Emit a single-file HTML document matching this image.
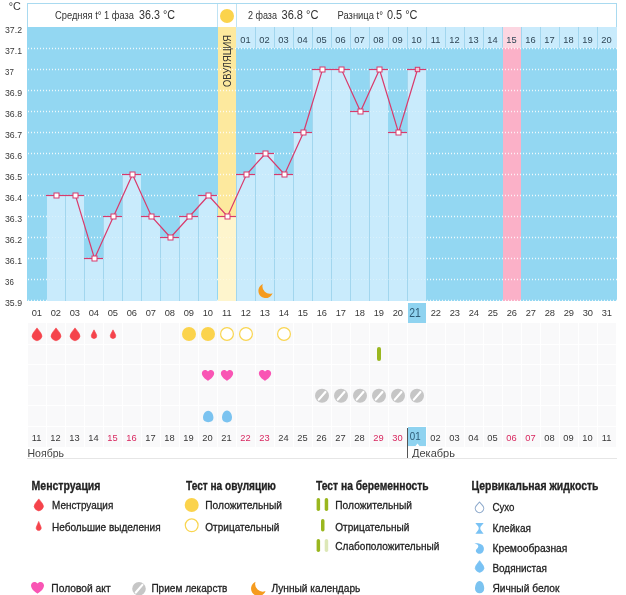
<!DOCTYPE html>
<html lang="ru"><head><meta charset="utf-8"><title>График базальной температуры</title>
<style>html,body{margin:0;padding:0;background:#fff}svg{display:block}text{font-family:"Liberation Sans", sans-serif}</style></head><body>
<svg width="626" height="595" viewBox="0 0 626 595">
<rect width="626" height="595" fill="#fff"/>
<rect x="27" y="27" width="590" height="274" fill="#93d7f2"/>
<rect x="27" y="3" width="590" height="24" fill="#a9daf0"/><rect x="28" y="4" width="588" height="23" fill="#fff"/>
<line x1="217.5" y1="4" x2="217.5" y2="27" stroke="#bfe3f4"/>
<line x1="236.5" y1="4" x2="236.5" y2="27" stroke="#bfe3f4"/>
<rect x="218" y="27" width="18" height="274" fill="#fde99e"/>
<rect x="503" y="27" width="18" height="274" fill="#fbb1c8"/>
<rect x="236" y="27" width="381" height="21" fill="#c9ebfc"/>
<rect x="503" y="27" width="18" height="21" fill="#fcd6e1"/>
<rect x="255" y="27" width="1" height="21" fill="#a2d6ee"/>
<rect x="274" y="27" width="1" height="21" fill="#a2d6ee"/>
<rect x="293" y="27" width="1" height="21" fill="#a2d6ee"/>
<rect x="312" y="27" width="1" height="21" fill="#a2d6ee"/>
<rect x="331" y="27" width="1" height="21" fill="#a2d6ee"/>
<rect x="350" y="27" width="1" height="21" fill="#a2d6ee"/>
<rect x="369" y="27" width="1" height="21" fill="#a2d6ee"/>
<rect x="388" y="27" width="1" height="21" fill="#a2d6ee"/>
<rect x="407" y="27" width="1" height="21" fill="#a2d6ee"/>
<rect x="426" y="27" width="1" height="21" fill="#a2d6ee"/>
<rect x="445" y="27" width="1" height="21" fill="#a2d6ee"/>
<rect x="464" y="27" width="1" height="21" fill="#a2d6ee"/>
<rect x="483" y="27" width="1" height="21" fill="#a2d6ee"/>
<rect x="502" y="27" width="1" height="21" fill="#a2d6ee"/>
<rect x="521" y="27" width="1" height="21" fill="#a2d6ee"/>
<rect x="540" y="27" width="1" height="21" fill="#a2d6ee"/>
<rect x="559" y="27" width="1" height="21" fill="#a2d6ee"/>
<rect x="578" y="27" width="1" height="21" fill="#a2d6ee"/>
<rect x="597" y="27" width="1" height="21" fill="#a2d6ee"/>
<line x1="28" y1="48.5" x2="617" y2="48.5" stroke="#fff" stroke-width="1.3" stroke-dasharray="1 2" opacity="0.8"/>
<line x1="28" y1="69.5" x2="617" y2="69.5" stroke="#fff" stroke-width="1.3" stroke-dasharray="1 2" opacity="0.8"/>
<line x1="28" y1="90.5" x2="617" y2="90.5" stroke="#fff" stroke-width="1.3" stroke-dasharray="1 2" opacity="0.8"/>
<line x1="28" y1="111.5" x2="617" y2="111.5" stroke="#fff" stroke-width="1.3" stroke-dasharray="1 2" opacity="0.8"/>
<line x1="28" y1="132.5" x2="617" y2="132.5" stroke="#fff" stroke-width="1.3" stroke-dasharray="1 2" opacity="0.8"/>
<line x1="28" y1="153.5" x2="617" y2="153.5" stroke="#fff" stroke-width="1.3" stroke-dasharray="1 2" opacity="0.8"/>
<line x1="28" y1="174.5" x2="617" y2="174.5" stroke="#fff" stroke-width="1.3" stroke-dasharray="1 2" opacity="0.8"/>
<line x1="28" y1="195.5" x2="617" y2="195.5" stroke="#fff" stroke-width="1.3" stroke-dasharray="1 2" opacity="0.8"/>
<line x1="28" y1="216.5" x2="617" y2="216.5" stroke="#fff" stroke-width="1.3" stroke-dasharray="1 2" opacity="0.8"/>
<line x1="28" y1="237.5" x2="617" y2="237.5" stroke="#fff" stroke-width="1.3" stroke-dasharray="1 2" opacity="0.8"/>
<line x1="28" y1="258.5" x2="617" y2="258.5" stroke="#fff" stroke-width="1.3" stroke-dasharray="1 2" opacity="0.8"/>
<line x1="28" y1="279.5" x2="617" y2="279.5" stroke="#fff" stroke-width="1.3" stroke-dasharray="1 2" opacity="0.8"/>
<line x1="28" y1="300.5" x2="617" y2="300.5" stroke="#fff" stroke-width="1.3" stroke-dasharray="1 2" opacity="0.8"/>
<rect x="47" y="195.0" width="18" height="106.0" fill="#c9ebfc"/>
<rect x="66" y="195.0" width="18" height="106.0" fill="#c9ebfc"/>
<rect x="65" y="195.0" width="1" height="106.0" fill="#a2d6ee"/>
<rect x="85" y="258.0" width="18" height="43.0" fill="#c9ebfc"/>
<rect x="84" y="258.0" width="1" height="43.0" fill="#a2d6ee"/>
<rect x="104" y="216.0" width="18" height="85.0" fill="#c9ebfc"/>
<rect x="103" y="216.0" width="1" height="85.0" fill="#a2d6ee"/>
<rect x="123" y="174.0" width="18" height="127.0" fill="#c9ebfc"/>
<rect x="122" y="174.0" width="1" height="127.0" fill="#a2d6ee"/>
<rect x="142" y="216.0" width="18" height="85.0" fill="#c9ebfc"/>
<rect x="141" y="216.0" width="1" height="85.0" fill="#a2d6ee"/>
<rect x="161" y="237.0" width="18" height="64.0" fill="#c9ebfc"/>
<rect x="160" y="237.0" width="1" height="64.0" fill="#a2d6ee"/>
<rect x="180" y="216.0" width="18" height="85.0" fill="#c9ebfc"/>
<rect x="179" y="216.0" width="1" height="85.0" fill="#a2d6ee"/>
<rect x="199" y="195.0" width="18" height="106.0" fill="#c9ebfc"/>
<rect x="198" y="195.0" width="1" height="106.0" fill="#a2d6ee"/>
<rect x="218" y="216.0" width="18" height="85.0" fill="#fef5cd"/>
<rect x="237" y="174.0" width="18" height="127.0" fill="#c9ebfc"/>
<rect x="236" y="174.0" width="1" height="127.0" fill="#a2d6ee"/>
<rect x="256" y="153.0" width="18" height="148.0" fill="#c9ebfc"/>
<rect x="255" y="153.0" width="1" height="148.0" fill="#a2d6ee"/>
<rect x="275" y="174.0" width="18" height="127.0" fill="#c9ebfc"/>
<rect x="274" y="174.0" width="1" height="127.0" fill="#a2d6ee"/>
<rect x="294" y="132.0" width="18" height="169.0" fill="#c9ebfc"/>
<rect x="293" y="132.0" width="1" height="169.0" fill="#a2d6ee"/>
<rect x="313" y="69.0" width="18" height="232.0" fill="#c9ebfc"/>
<rect x="312" y="69.0" width="1" height="232.0" fill="#a2d6ee"/>
<rect x="332" y="69.0" width="18" height="232.0" fill="#c9ebfc"/>
<rect x="331" y="69.0" width="1" height="232.0" fill="#a2d6ee"/>
<rect x="351" y="111.0" width="18" height="190.0" fill="#c9ebfc"/>
<rect x="350" y="111.0" width="1" height="190.0" fill="#a2d6ee"/>
<rect x="370" y="69.0" width="18" height="232.0" fill="#c9ebfc"/>
<rect x="369" y="69.0" width="1" height="232.0" fill="#a2d6ee"/>
<rect x="389" y="132.0" width="18" height="169.0" fill="#c9ebfc"/>
<rect x="388" y="132.0" width="1" height="169.0" fill="#a2d6ee"/>
<rect x="408" y="69.0" width="18" height="232.0" fill="#c9ebfc"/>
<rect x="407" y="69.0" width="1" height="232.0" fill="#a2d6ee"/>
<line x1="28" y1="48.5" x2="617" y2="48.5" stroke="#fff" stroke-width="1.2" stroke-dasharray="1 2" opacity="0.3"/>
<line x1="28" y1="69.5" x2="617" y2="69.5" stroke="#fff" stroke-width="1.2" stroke-dasharray="1 2" opacity="0.3"/>
<line x1="28" y1="90.5" x2="617" y2="90.5" stroke="#fff" stroke-width="1.2" stroke-dasharray="1 2" opacity="0.3"/>
<line x1="28" y1="111.5" x2="617" y2="111.5" stroke="#fff" stroke-width="1.2" stroke-dasharray="1 2" opacity="0.3"/>
<line x1="28" y1="132.5" x2="617" y2="132.5" stroke="#fff" stroke-width="1.2" stroke-dasharray="1 2" opacity="0.3"/>
<line x1="28" y1="153.5" x2="617" y2="153.5" stroke="#fff" stroke-width="1.2" stroke-dasharray="1 2" opacity="0.3"/>
<line x1="28" y1="174.5" x2="617" y2="174.5" stroke="#fff" stroke-width="1.2" stroke-dasharray="1 2" opacity="0.3"/>
<line x1="28" y1="195.5" x2="617" y2="195.5" stroke="#fff" stroke-width="1.2" stroke-dasharray="1 2" opacity="0.3"/>
<line x1="28" y1="216.5" x2="617" y2="216.5" stroke="#fff" stroke-width="1.2" stroke-dasharray="1 2" opacity="0.3"/>
<line x1="28" y1="237.5" x2="617" y2="237.5" stroke="#fff" stroke-width="1.2" stroke-dasharray="1 2" opacity="0.3"/>
<line x1="28" y1="258.5" x2="617" y2="258.5" stroke="#fff" stroke-width="1.2" stroke-dasharray="1 2" opacity="0.3"/>
<line x1="28" y1="279.5" x2="617" y2="279.5" stroke="#fff" stroke-width="1.2" stroke-dasharray="1 2" opacity="0.3"/>
<line x1="46" y1="195.5" x2="65" y2="195.5" stroke="#d93a6c" stroke-width="1.2"/>
<line x1="65" y1="195.5" x2="84" y2="195.5" stroke="#d93a6c" stroke-width="1.2"/>
<line x1="84" y1="258.5" x2="103" y2="258.5" stroke="#d93a6c" stroke-width="1.2"/>
<line x1="103" y1="216.5" x2="122" y2="216.5" stroke="#d93a6c" stroke-width="1.2"/>
<line x1="122" y1="174.5" x2="141" y2="174.5" stroke="#d93a6c" stroke-width="1.2"/>
<line x1="141" y1="216.5" x2="160" y2="216.5" stroke="#d93a6c" stroke-width="1.2"/>
<line x1="160" y1="237.5" x2="179" y2="237.5" stroke="#d93a6c" stroke-width="1.2"/>
<line x1="179" y1="216.5" x2="198" y2="216.5" stroke="#d93a6c" stroke-width="1.2"/>
<line x1="198" y1="195.5" x2="217" y2="195.5" stroke="#d93a6c" stroke-width="1.2"/>
<line x1="217" y1="216.5" x2="236" y2="216.5" stroke="#d93a6c" stroke-width="1.2"/>
<line x1="236" y1="174.5" x2="255" y2="174.5" stroke="#d93a6c" stroke-width="1.2"/>
<line x1="255" y1="153.5" x2="274" y2="153.5" stroke="#d93a6c" stroke-width="1.2"/>
<line x1="274" y1="174.5" x2="293" y2="174.5" stroke="#d93a6c" stroke-width="1.2"/>
<line x1="293" y1="132.5" x2="312" y2="132.5" stroke="#d93a6c" stroke-width="1.2"/>
<line x1="312" y1="69.5" x2="331" y2="69.5" stroke="#d93a6c" stroke-width="1.2"/>
<line x1="331" y1="69.5" x2="350" y2="69.5" stroke="#d93a6c" stroke-width="1.2"/>
<line x1="350" y1="111.5" x2="369" y2="111.5" stroke="#d93a6c" stroke-width="1.2"/>
<line x1="369" y1="69.5" x2="388" y2="69.5" stroke="#d93a6c" stroke-width="1.2"/>
<line x1="388" y1="132.5" x2="407" y2="132.5" stroke="#d93a6c" stroke-width="1.2"/>
<line x1="407" y1="69.5" x2="426" y2="69.5" stroke="#d93a6c" stroke-width="1.2"/>
<polyline points="56.5,195.5 75.5,195.5 94.5,258.5 113.5,216.5 132.5,174.5 151.5,216.5 170.5,237.5 189.5,216.5 208.5,195.5 227.5,216.5 246.5,174.5 265.5,153.5 284.5,174.5 303.5,132.5 322.5,69.5 341.5,69.5 360.5,111.5 379.5,69.5 398.5,132.5 417.5,69.5" fill="none" stroke="#d93a6c" stroke-width="1.2"/>
<rect x="54.0" y="193.0" width="5.0" height="5.0" fill="#fff" stroke="#d93a6c" stroke-width="1"/>
<rect x="73.0" y="193.0" width="5.0" height="5.0" fill="#fff" stroke="#d93a6c" stroke-width="1"/>
<rect x="92.0" y="256.0" width="5.0" height="5.0" fill="#fff" stroke="#d93a6c" stroke-width="1"/>
<rect x="111.0" y="214.0" width="5.0" height="5.0" fill="#fff" stroke="#d93a6c" stroke-width="1"/>
<rect x="130.0" y="172.0" width="5.0" height="5.0" fill="#fff" stroke="#d93a6c" stroke-width="1"/>
<rect x="149.0" y="214.0" width="5.0" height="5.0" fill="#fff" stroke="#d93a6c" stroke-width="1"/>
<rect x="168.0" y="235.0" width="5.0" height="5.0" fill="#fff" stroke="#d93a6c" stroke-width="1"/>
<rect x="187.0" y="214.0" width="5.0" height="5.0" fill="#fff" stroke="#d93a6c" stroke-width="1"/>
<rect x="206.0" y="193.0" width="5.0" height="5.0" fill="#fff" stroke="#d93a6c" stroke-width="1"/>
<rect x="225.0" y="214.0" width="5.0" height="5.0" fill="#fff" stroke="#d93a6c" stroke-width="1"/>
<rect x="244.0" y="172.0" width="5.0" height="5.0" fill="#fff" stroke="#d93a6c" stroke-width="1"/>
<rect x="263.0" y="151.0" width="5.0" height="5.0" fill="#fff" stroke="#d93a6c" stroke-width="1"/>
<rect x="282.0" y="172.0" width="5.0" height="5.0" fill="#fff" stroke="#d93a6c" stroke-width="1"/>
<rect x="301.0" y="130.0" width="5.0" height="5.0" fill="#fff" stroke="#d93a6c" stroke-width="1"/>
<rect x="320.0" y="67.0" width="5.0" height="5.0" fill="#fff" stroke="#d93a6c" stroke-width="1"/>
<rect x="339.0" y="67.0" width="5.0" height="5.0" fill="#fff" stroke="#d93a6c" stroke-width="1"/>
<rect x="358.0" y="109.0" width="5.0" height="5.0" fill="#fff" stroke="#d93a6c" stroke-width="1"/>
<rect x="377.0" y="67.0" width="5.0" height="5.0" fill="#fff" stroke="#d93a6c" stroke-width="1"/>
<rect x="396.0" y="130.0" width="5.0" height="5.0" fill="#fff" stroke="#d93a6c" stroke-width="1"/>
<rect x="415.3" y="67.3" width="4.4" height="4.4" fill="#f4c3d3" stroke="#d93a6c" stroke-width="1"/>
<path transform="translate(265.6 290.8) scale(1.00)" d="M-2.8,-6.7 A7.3,7.3 0 1 0 7,2.4 A7.4,7.4 0 0 1 -2.8,-6.7 Z" fill="#f59b1e"/>
<g font-size="9.8" fill="#383838">
<text x="5" y="32.8" textLength="17.0" lengthAdjust="spacingAndGlyphs">37.2</text>
<text x="5" y="53.8" textLength="17.0" lengthAdjust="spacingAndGlyphs">37.1</text>
<text x="5" y="74.8" textLength="8.8" lengthAdjust="spacingAndGlyphs">37</text>
<text x="5" y="95.8" textLength="17.0" lengthAdjust="spacingAndGlyphs">36.9</text>
<text x="5" y="116.8" textLength="17.0" lengthAdjust="spacingAndGlyphs">36.8</text>
<text x="5" y="137.8" textLength="17.0" lengthAdjust="spacingAndGlyphs">36.7</text>
<text x="5" y="158.8" textLength="17.0" lengthAdjust="spacingAndGlyphs">36.6</text>
<text x="5" y="179.8" textLength="17.0" lengthAdjust="spacingAndGlyphs">36.5</text>
<text x="5" y="200.8" textLength="17.0" lengthAdjust="spacingAndGlyphs">36.4</text>
<text x="5" y="221.8" textLength="17.0" lengthAdjust="spacingAndGlyphs">36.3</text>
<text x="5" y="242.8" textLength="17.0" lengthAdjust="spacingAndGlyphs">36.2</text>
<text x="5" y="263.8" textLength="17.0" lengthAdjust="spacingAndGlyphs">36.1</text>
<text x="5" y="284.8" textLength="8.8" lengthAdjust="spacingAndGlyphs">36</text>
<text x="5" y="305.8" textLength="17.0" lengthAdjust="spacingAndGlyphs">35.9</text>
</g>
<text x="8.7" y="10.2" font-size="10.8" fill="#383838">°C</text>
<g fill="#333">
<text x="55" y="19.3" font-size="10" textLength="79" lengthAdjust="spacingAndGlyphs">Средняя t° 1 фаза</text>
<text x="139" y="19.3" font-size="12" textLength="36" lengthAdjust="spacingAndGlyphs">36.3 °C</text>
<text x="248" y="19.3" font-size="10" textLength="29" lengthAdjust="spacingAndGlyphs">2 фаза</text>
<text x="281.5" y="19.3" font-size="12" textLength="37" lengthAdjust="spacingAndGlyphs">36.8 °C</text>
<text x="337.5" y="19.3" font-size="10" textLength="45.5" lengthAdjust="spacingAndGlyphs">Разница t°</text>
<text x="387" y="19.3" font-size="12" textLength="30.5" lengthAdjust="spacingAndGlyphs">0.5 °C</text>
</g>
<circle cx="227" cy="16" r="7" fill="#fbd34c"/>
<text transform="translate(231.1 87) rotate(-90)" font-size="10.5" fill="#333" textLength="52" lengthAdjust="spacingAndGlyphs">ОВУЛЯЦИЯ</text>
<g font-size="9.3" fill="#2f4656" text-anchor="middle">
<text x="245.5" y="42.8">01</text>
<text x="264.5" y="42.8">02</text>
<text x="283.5" y="42.8">03</text>
<text x="302.5" y="42.8">04</text>
<text x="321.5" y="42.8">05</text>
<text x="340.5" y="42.8">06</text>
<text x="359.5" y="42.8">07</text>
<text x="378.5" y="42.8">08</text>
<text x="397.5" y="42.8">09</text>
<text x="416.5" y="42.8">10</text>
<text x="435.5" y="42.8">11</text>
<text x="454.5" y="42.8">12</text>
<text x="473.5" y="42.8">13</text>
<text x="492.5" y="42.8">14</text>
<text x="511.5" y="42.8">15</text>
<text x="530.5" y="42.8">16</text>
<text x="549.5" y="42.8">17</text>
<text x="568.5" y="42.8">18</text>
<text x="587.5" y="42.8">19</text>
<text x="606.5" y="42.8">20</text>
</g>
<rect x="408" y="303" width="18" height="20" fill="#8fd3f0"/>
<g font-size="9.3" fill="#383838" text-anchor="middle">
<text x="36.8" y="316">01</text>
<text x="55.8" y="316">02</text>
<text x="74.8" y="316">03</text>
<text x="93.8" y="316">04</text>
<text x="112.8" y="316">05</text>
<text x="131.8" y="316">06</text>
<text x="150.8" y="316">07</text>
<text x="169.8" y="316">08</text>
<text x="188.8" y="316">09</text>
<text x="207.8" y="316">10</text>
<text x="226.8" y="316">11</text>
<text x="245.8" y="316">12</text>
<text x="264.8" y="316">13</text>
<text x="283.8" y="316">14</text>
<text x="302.8" y="316">15</text>
<text x="321.8" y="316">16</text>
<text x="340.8" y="316">17</text>
<text x="359.8" y="316">18</text>
<text x="378.8" y="316">19</text>
<text x="397.8" y="316">20</text>
<text x="409.3" y="317.2" font-size="12" fill="#2c5a75" textLength="11.6" lengthAdjust="spacingAndGlyphs" text-anchor="start">21</text>
<text x="435.8" y="316">22</text>
<text x="454.8" y="316">23</text>
<text x="473.8" y="316">24</text>
<text x="492.8" y="316">25</text>
<text x="511.8" y="316">26</text>
<text x="530.8" y="316">27</text>
<text x="549.8" y="316">28</text>
<text x="568.8" y="316">29</text>
<text x="587.8" y="316">30</text>
<text x="606.8" y="316">31</text>
</g>
<rect x="27" y="323" width="590" height="124" fill="#f9f9fa"/>
<rect x="27" y="344" width="590" height="1" fill="#fff"/>
<rect x="27" y="364" width="590" height="1" fill="#fff"/>
<rect x="27" y="385" width="590" height="1" fill="#fff"/>
<rect x="27" y="405" width="590" height="1" fill="#fff"/>
<rect x="27" y="426" width="590" height="1" fill="#fff"/>
<rect x="27" y="323" width="1" height="124" fill="#fff"/>
<rect x="46" y="323" width="1" height="124" fill="#fff"/>
<rect x="65" y="323" width="1" height="124" fill="#fff"/>
<rect x="84" y="323" width="1" height="124" fill="#fff"/>
<rect x="103" y="323" width="1" height="124" fill="#fff"/>
<rect x="122" y="323" width="1" height="124" fill="#fff"/>
<rect x="141" y="323" width="1" height="124" fill="#fff"/>
<rect x="160" y="323" width="1" height="124" fill="#fff"/>
<rect x="179" y="323" width="1" height="124" fill="#fff"/>
<rect x="198" y="323" width="1" height="124" fill="#fff"/>
<rect x="217" y="323" width="1" height="124" fill="#fff"/>
<rect x="236" y="323" width="1" height="124" fill="#fff"/>
<rect x="255" y="323" width="1" height="124" fill="#fff"/>
<rect x="274" y="323" width="1" height="124" fill="#fff"/>
<rect x="293" y="323" width="1" height="124" fill="#fff"/>
<rect x="312" y="323" width="1" height="124" fill="#fff"/>
<rect x="331" y="323" width="1" height="124" fill="#fff"/>
<rect x="350" y="323" width="1" height="124" fill="#fff"/>
<rect x="369" y="323" width="1" height="124" fill="#fff"/>
<rect x="388" y="323" width="1" height="124" fill="#fff"/>
<rect x="407" y="323" width="1" height="124" fill="#fff"/>
<rect x="426" y="323" width="1" height="124" fill="#fff"/>
<rect x="445" y="323" width="1" height="124" fill="#fff"/>
<rect x="464" y="323" width="1" height="124" fill="#fff"/>
<rect x="483" y="323" width="1" height="124" fill="#fff"/>
<rect x="502" y="323" width="1" height="124" fill="#fff"/>
<rect x="521" y="323" width="1" height="124" fill="#fff"/>
<rect x="540" y="323" width="1" height="124" fill="#fff"/>
<rect x="559" y="323" width="1" height="124" fill="#fff"/>
<rect x="578" y="323" width="1" height="124" fill="#fff"/>
<rect x="597" y="323" width="1" height="124" fill="#fff"/>
<rect x="616" y="323" width="1" height="124" fill="#fff"/>
<rect x="408" y="427" width="18" height="19" fill="#8fd3f0"/>
<path d="M415.5,446 L417.5,443.5 L419.5,446 Z" fill="#fff"/>
<rect x="407" y="428" width="1" height="30" fill="#555"/>
<g font-size="9.3" text-anchor="middle">
<text x="36.5" y="441" fill="#383838">11</text>
<text x="55.5" y="441" fill="#383838">12</text>
<text x="74.5" y="441" fill="#383838">13</text>
<text x="93.5" y="441" fill="#383838">14</text>
<text x="112.5" y="441" fill="#d8275f">15</text>
<text x="131.5" y="441" fill="#d8275f">16</text>
<text x="150.5" y="441" fill="#383838">17</text>
<text x="169.5" y="441" fill="#383838">18</text>
<text x="188.5" y="441" fill="#383838">19</text>
<text x="207.5" y="441" fill="#383838">20</text>
<text x="226.5" y="441" fill="#383838">21</text>
<text x="245.5" y="441" fill="#d8275f">22</text>
<text x="264.5" y="441" fill="#d8275f">23</text>
<text x="283.5" y="441" fill="#383838">24</text>
<text x="302.5" y="441" fill="#383838">25</text>
<text x="321.5" y="441" fill="#383838">26</text>
<text x="340.5" y="441" fill="#383838">27</text>
<text x="359.5" y="441" fill="#383838">28</text>
<text x="378.5" y="441" fill="#d8275f">29</text>
<text x="397.5" y="441" fill="#d8275f">30</text>
<text x="409.8" y="439.7" font-size="11.5" fill="#2c5a75" textLength="10.8" lengthAdjust="spacingAndGlyphs" text-anchor="start">01</text>
<text x="435.5" y="441" fill="#383838">02</text>
<text x="454.5" y="441" fill="#383838">03</text>
<text x="473.5" y="441" fill="#383838">04</text>
<text x="492.5" y="441" fill="#383838">05</text>
<text x="511.5" y="441" fill="#d8275f">06</text>
<text x="530.5" y="441" fill="#d8275f">07</text>
<text x="549.5" y="441" fill="#383838">08</text>
<text x="568.5" y="441" fill="#383838">09</text>
<text x="587.5" y="441" fill="#383838">10</text>
<text x="606.5" y="441" fill="#383838">11</text>
</g>
<text x="27.5" y="456.5" font-size="11" fill="#444" textLength="36.5" lengthAdjust="spacingAndGlyphs">Ноябрь</text>
<text x="412" y="456.5" font-size="11" fill="#444" textLength="43" lengthAdjust="spacingAndGlyphs">Декабрь</text>
<rect x="27" y="458" width="590" height="1" fill="#e6e6e6"/>
<path d="M37.00,327.90 L40.81,332.88 A4.80,4.80 0 1 1 33.19,332.88 Z" fill="#f5434b" stroke="#f5434b" stroke-width="0.6" stroke-linejoin="round"/>
<path d="M56.00,327.90 L59.81,332.88 A4.80,4.80 0 1 1 52.19,332.88 Z" fill="#f5434b" stroke="#f5434b" stroke-width="0.6" stroke-linejoin="round"/>
<path d="M75.00,327.90 L78.81,332.88 A4.80,4.80 0 1 1 71.19,332.88 Z" fill="#f5434b" stroke="#f5434b" stroke-width="0.6" stroke-linejoin="round"/>
<path d="M94.00,329.85 L96.44,334.53 A2.75,2.75 0 1 1 91.56,334.53 Z" fill="#f5434b" stroke="#f5434b" stroke-width="0.6" stroke-linejoin="round"/>
<path d="M113.00,329.85 L115.44,334.53 A2.75,2.75 0 1 1 110.56,334.53 Z" fill="#f5434b" stroke="#f5434b" stroke-width="0.6" stroke-linejoin="round"/>
<circle cx="189.0" cy="334.0" r="7" fill="#fbd34c"/>
<circle cx="208.0" cy="334.0" r="7" fill="#fbd34c"/>
<circle cx="227.0" cy="334.0" r="6.4" fill="#fff" stroke="#f9d550" stroke-width="1.2"/>
<circle cx="246.0" cy="334.0" r="6.4" fill="#fff" stroke="#f9d550" stroke-width="1.2"/>
<circle cx="284.0" cy="334.0" r="6.4" fill="#fff" stroke="#f9d550" stroke-width="1.2"/>
<rect x="377" y="347" width="4" height="14" rx="2" fill="#9ab71f"/>
<path transform="translate(201.85 369.90) scale(0.513 0.524)" d="M12,21 C11,20.3 0,14.5 0,6.6 C0,2.6 2.9,0 6.3,0 C8.7,0 10.9,1.1 12,2.9 C13.1,1.1 15.3,0 17.7,0 C21.1,0 24,2.6 24,6.6 C24,14.5 13,20.3 12,21 Z" fill="#f955b4"/>
<path transform="translate(220.85 369.90) scale(0.513 0.524)" d="M12,21 C11,20.3 0,14.5 0,6.6 C0,2.6 2.9,0 6.3,0 C8.7,0 10.9,1.1 12,2.9 C13.1,1.1 15.3,0 17.7,0 C21.1,0 24,2.6 24,6.6 C24,14.5 13,20.3 12,21 Z" fill="#f955b4"/>
<path transform="translate(258.85 369.90) scale(0.513 0.524)" d="M12,21 C11,20.3 0,14.5 0,6.6 C0,2.6 2.9,0 6.3,0 C8.7,0 10.9,1.1 12,2.9 C13.1,1.1 15.3,0 17.7,0 C21.1,0 24,2.6 24,6.6 C24,14.5 13,20.3 12,21 Z" fill="#f955b4"/>
<circle cx="322.0" cy="395.8" r="7.0" fill="#c6c6c6"/><line x1="318.8" y1="399.6" x2="325.4" y2="392.0" stroke="#fff" stroke-width="2.2" stroke-linecap="round"/>
<circle cx="341.0" cy="395.8" r="7.0" fill="#c6c6c6"/><line x1="337.8" y1="399.6" x2="344.4" y2="392.0" stroke="#fff" stroke-width="2.2" stroke-linecap="round"/>
<circle cx="360.0" cy="395.8" r="7.0" fill="#c6c6c6"/><line x1="356.8" y1="399.6" x2="363.4" y2="392.0" stroke="#fff" stroke-width="2.2" stroke-linecap="round"/>
<circle cx="379.0" cy="395.8" r="7.0" fill="#c6c6c6"/><line x1="375.8" y1="399.6" x2="382.4" y2="392.0" stroke="#fff" stroke-width="2.2" stroke-linecap="round"/>
<circle cx="398.0" cy="395.8" r="7.0" fill="#c6c6c6"/><line x1="394.8" y1="399.6" x2="401.4" y2="392.0" stroke="#fff" stroke-width="2.2" stroke-linecap="round"/>
<circle cx="417.0" cy="395.8" r="7.0" fill="#c6c6c6"/><line x1="413.8" y1="399.6" x2="420.4" y2="392.0" stroke="#fff" stroke-width="2.2" stroke-linecap="round"/>
<path d="M208.20,410.85 C211.63,410.85 213.40,414.81 213.40,417.74 C213.40,420.57 211.22,422.15 208.20,422.15 C205.18,422.15 203.00,420.57 203.00,417.74 C203.00,414.81 204.77,410.85 208.20,410.85 Z" fill="#7bc3f0"/>
<path d="M227.00,410.60 C230.30,410.60 232.00,414.73 232.00,417.80 C232.00,420.75 229.90,422.40 227.00,422.40 C224.10,422.40 222.00,420.75 222.00,417.80 C222.00,414.73 223.70,410.60 227.00,410.60 Z" fill="#7bc3f0"/>
<g fill="#222" stroke="#222" stroke-width="0.3">
<text x="31.5" y="490.0" font-size="12.3" font-weight="bold" textLength="69.0" lengthAdjust="spacingAndGlyphs">Менструация</text>
<text x="52.0" y="509.0" font-size="11.6" textLength="61.3" lengthAdjust="spacingAndGlyphs">Менструация</text>
<text x="52.0" y="530.5" font-size="11.6" textLength="108.6" lengthAdjust="spacingAndGlyphs">Небольшие выделения</text>
<text x="186.0" y="490.0" font-size="12.3" font-weight="bold" textLength="90.0" lengthAdjust="spacingAndGlyphs">Тест на овуляцию</text>
<text x="205.3" y="509.0" font-size="11.6" textLength="76.7" lengthAdjust="spacingAndGlyphs">Положительный</text>
<text x="205.3" y="530.5" font-size="11.6" textLength="74.0" lengthAdjust="spacingAndGlyphs">Отрицательный</text>
<text x="316.0" y="490.0" font-size="12.3" font-weight="bold" textLength="112.6" lengthAdjust="spacingAndGlyphs">Тест на беременность</text>
<text x="335.3" y="509.0" font-size="11.6" textLength="76.7" lengthAdjust="spacingAndGlyphs">Положительный</text>
<text x="335.3" y="530.5" font-size="11.6" textLength="74.0" lengthAdjust="spacingAndGlyphs">Отрицательный</text>
<text x="335.3" y="550.0" font-size="11.6" textLength="104.0" lengthAdjust="spacingAndGlyphs">Слабоположительный</text>
<text x="471.5" y="489.5" font-size="12.3" font-weight="bold" textLength="127.0" lengthAdjust="spacingAndGlyphs">Цервикальная жидкость</text>
<text x="492.4" y="510.6" font-size="11.6" textLength="22.0" lengthAdjust="spacingAndGlyphs">Сухо</text>
<text x="492.4" y="531.5" font-size="11.6" textLength="38.6" lengthAdjust="spacingAndGlyphs">Клейкая</text>
<text x="492.4" y="551.7" font-size="11.6" textLength="75.0" lengthAdjust="spacingAndGlyphs">Кремообразная</text>
<text x="492.4" y="571.6" font-size="11.6" textLength="54.6" lengthAdjust="spacingAndGlyphs">Водянистая</text>
<text x="492.4" y="591.5" font-size="11.6" textLength="67.0" lengthAdjust="spacingAndGlyphs">Яичный белок</text>
<text x="51.3" y="591.7" font-size="11.6" textLength="59.3" lengthAdjust="spacingAndGlyphs">Половой акт</text>
<text x="151.4" y="591.7" font-size="11.6" textLength="76.0" lengthAdjust="spacingAndGlyphs">Прием лекарств</text>
<text x="271.4" y="591.7" font-size="11.6" textLength="89.0" lengthAdjust="spacingAndGlyphs">Лунный календарь</text>
</g>
<path d="M38.80,498.90 L42.34,503.43 A4.50,4.50 0 1 1 35.26,503.43 Z" fill="#f5434b" stroke="#f5434b" stroke-width="0.6" stroke-linejoin="round"/>
<path d="M38.70,521.40 L41.06,527.07 A2.55,2.55 0 1 1 36.34,527.07 Z" fill="#f5434b" stroke="#f5434b" stroke-width="0.6" stroke-linejoin="round"/>
<circle cx="191.7" cy="505" r="7" fill="#fbd34c"/>
<circle cx="191.7" cy="525.3" r="6.4" fill="#fff" stroke="#f9d550" stroke-width="1.2"/>
<rect x="316.6" y="498" width="3.5" height="13" rx="1.7" fill="#9ab71f"/><rect x="324.7" y="498" width="3.5" height="13" rx="1.7" fill="#9ab71f"/>
<rect x="321" y="519" width="3.5" height="12.5" rx="1.7" fill="#9ab71f"/>
<rect x="316.6" y="539" width="3.5" height="13" rx="1.7" fill="#9ab71f"/><rect x="324.7" y="539" width="3.5" height="13" rx="1.7" fill="#dde8b8"/>
<path d="M479.50,502.00 L482.67,505.64 A4.20,4.20 0 1 1 476.33,505.64 Z" fill="none" stroke="#8eaacc" stroke-width="1.1" stroke-linejoin="round"/>
<path d="M475.4,523 H483.6 C483.2,524.6 480.4,525.6 480.2,528 C480.3,530.5 482.5,531.8 483.6,533.8 H475.4 C476.5,531.8 478.7,530.5 478.8,528 C478.6,525.6 475.8,524.6 475.4,523 Z" fill="#79c2f4"/>
<path d="M474.4,543.2 C477.5,543 481,543.4 482.8,545.6 C484.4,547.6 484.3,550.6 482.6,552.4 C480.9,554.2 478,554.3 476.6,552.6 C475.4,551.2 475.6,549.4 477.2,548.4 C478.6,547.4 478.6,545.6 477.6,544.8 C476.8,544.1 475.6,543.6 474.4,543.2 Z" fill="#79c2f4"/>
<path d="M479.60,560.60 L483.07,565.37 A4.30,4.30 0 1 1 476.13,565.37 Z" fill="#79c2f4" stroke="#79c2f4" stroke-width="0.6" stroke-linejoin="round"/>
<path d="M479.60,580.90 C482.64,580.90 484.20,585.24 484.20,588.46 C484.20,591.56 482.27,593.30 479.60,593.30 C476.93,593.30 475.00,591.56 475.00,588.46 C475.00,585.24 476.56,580.90 479.60,580.90 Z" fill="#7bc3f0"/>
<path transform="translate(31.00 581.90) scale(0.542 0.562)" d="M12,21 C11,20.3 0,14.5 0,6.6 C0,2.6 2.9,0 6.3,0 C8.7,0 10.9,1.1 12,2.9 C13.1,1.1 15.3,0 17.7,0 C21.1,0 24,2.6 24,6.6 C24,14.5 13,20.3 12,21 Z" fill="#f955b4"/>
<circle cx="139.0" cy="588.7" r="6.8" fill="#c6c6c6"/><line x1="135.8" y1="592.5" x2="142.4" y2="584.9" stroke="#fff" stroke-width="2.2" stroke-linecap="round"/>
<path transform="translate(258.4 588.6) scale(1.02)" d="M-2.8,-6.7 A7.3,7.3 0 1 0 7,2.4 A7.4,7.4 0 0 1 -2.8,-6.7 Z" fill="#f59b1e"/>
</svg></body></html>
